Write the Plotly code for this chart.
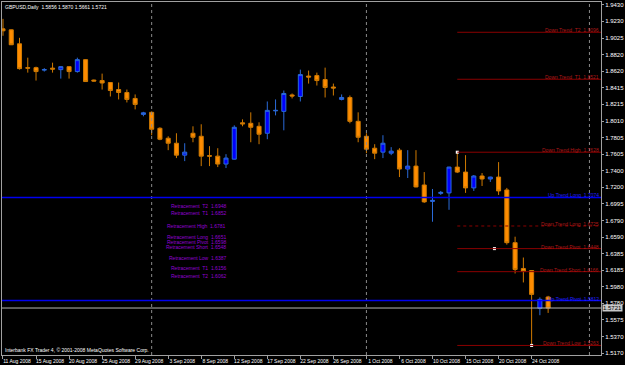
import plotly.graph_objects as go

# ---------------- data ----------------
bar_idx = list(range(67))
opens = [1.9138, 1.9126, 1.8955, 1.8663, 1.8663, 1.8633, 1.8657, 1.8639, 1.8675, 1.8615,
         1.8761, 1.8511, 1.8505, 1.8481, 1.8395, 1.8359, 1.8286, 1.8091, 1.8116, 1.7921,
         1.7799, 1.7738, 1.7592, 1.7860, 1.7823, 1.7586, 1.7580, 1.7483, 1.7543, 1.7988,
         1.7982, 1.7945, 1.7860, 1.8134, 1.8128, 1.8329, 1.8310, 1.8560, 1.8566, 1.8517,
         1.8426, 1.8274, 1.8298, 1.8006, 1.7823, 1.7677, 1.7629, 1.7616, 1.7653, 1.7422,
         1.7458, 1.7227, 1.7026, 1.7124, 1.7130, 1.7446, 1.7385, 1.7191, 1.7337, 1.7300,
         1.7324, 1.7166, 1.6521, 1.6205, 1.6180, 1.5718, 1.5856]
highs = [1.9260, 1.9130, 1.9028, 1.8785, 1.8675, 1.8657, 1.8724, 1.8680, 1.8680, 1.8785,
         1.8765, 1.8517, 1.8590, 1.8485, 1.8481, 1.8395, 1.8335, 1.8122, 1.8128, 1.7933,
         1.7823, 1.7860, 1.7738, 1.7945, 1.7970, 1.7702, 1.7677, 1.7604, 1.7957, 1.8030,
         1.8116, 1.7994, 1.8249, 1.8274, 1.8383, 1.8347, 1.8639, 1.8627, 1.8602, 1.8663,
         1.8468, 1.8335, 1.8322, 1.8116, 1.7860, 1.7726, 1.7836, 1.7690, 1.7677, 1.7653,
         1.7653, 1.7385, 1.7178, 1.7154, 1.7450, 1.7628, 1.7592, 1.7349, 1.7373, 1.7328,
         1.7507, 1.7191, 1.6594, 1.6339, 1.6185, 1.5851, 1.5870]
lows = [1.9053, 1.8940, 1.8639, 1.8602, 1.8505, 1.8615, 1.8602, 1.8529, 1.8529, 1.8602,
        1.8490, 1.8493, 1.8395, 1.8310, 1.8274, 1.8237, 1.8152, 1.8067, 1.7836, 1.7775,
        1.7653, 1.7556, 1.7519, 1.7750, 1.7458, 1.7458, 1.7446, 1.7434, 1.7540, 1.7945,
        1.7750, 1.7726, 1.7787, 1.8079, 1.7896, 1.8286, 1.8249, 1.8468, 1.8444, 1.8298,
        1.8322, 1.8262, 1.7982, 1.7750, 1.7616, 1.7543, 1.7556, 1.7592, 1.7324, 1.7312,
        1.7198, 1.7008, 1.6777, 1.7105, 1.6923, 1.7373, 1.7130, 1.7154, 1.7215, 1.7264,
        1.7105, 1.6497, 1.6144, 1.6034, 1.5263, 1.5633, 1.5661]
closes = [1.9114, 1.8943, 1.8651, 1.8657, 1.8615, 1.8639, 1.8645, 1.8675, 1.8615, 1.8761,
          1.8493, 1.8499, 1.8475, 1.8383, 1.8359, 1.8274, 1.8213, 1.8110, 1.7909, 1.7787,
          1.7738, 1.7592, 1.7629, 1.7811, 1.7580, 1.7580, 1.7483, 1.7556, 1.7933, 1.7975,
          1.7933, 1.7848, 1.8140, 1.8140, 1.8347, 1.8316, 1.8578, 1.8548, 1.8505, 1.8420,
          1.8414, 1.8298, 1.8006, 1.7811, 1.7665, 1.7616, 1.7738, 1.7641, 1.7422, 1.7458,
          1.7203, 1.7020, 1.7038, 1.7136, 1.7446, 1.7385, 1.7191, 1.7337, 1.7300, 1.7324,
          1.7154, 1.6521, 1.6193, 1.6168, 1.5888, 1.5827, 1.5721]

date_tick_idx = [0, 4, 8, 12, 16, 20, 24, 28, 32, 36, 40, 44, 48, 52, 56, 60, 64]
date_tick_labels = ["11 Aug 2008", "15 Aug 2008", "20 Aug 2008", "25 Aug 2008", "29 Aug 2008",
                    "3 Sep 2008", "8 Sep 2008", "12 Sep 2008", "17 Sep 2008", "22 Sep 2008",
                    "26 Sep 2008", "1 Oct 2008", "6 Oct 2008", "10 Oct 2008", "15 Oct 2008",
                    "20 Oct 2008", "24 Oct 2008"]
month_sep_idx = [18, 44, 71]

price_ticks = [1.9430, 1.9230, 1.9025, 1.8820, 1.8620, 1.8415, 1.8215, 1.8010, 1.7805,
               1.7605, 1.7400, 1.7200, 1.6995, 1.6790, 1.6590, 1.6385, 1.6185, 1.5980,
               1.5780, 1.5575, 1.5370, 1.5170]
price_tick_labels = ["%.4f" % v for v in price_ticks]

down_names = ["Down Trend  T2", "Down Trend  T1", "Down Trend High", "Down Trend Long",
              "Down Trend Pivot", "Down Trend Short", "Down Trend Low"]
down_vals = [1.9096, 1.8521, 1.7628, 1.6725, 1.6448, 1.6166, 1.5263]
down_start_idx = 55
up_names = ["Up Trend Long", "Up Trend Pivot"]
up_vals = [1.7074, 1.5812]

marker_idx = [55, 59.5, 64]
marker_vals = [1.7628, 1.6448, 1.5263]

retr_names = ["Retracement  T2", "Retracement  T1", "Retracement High", "Retracement Long",
              "Retracement Pivot", "Retracement Short", "Retracement Low",
              "Retracement  T1", "Retracement  T2"]
retr_vals = [1.6948, 1.6852, 1.6781, 1.6651, 1.6598, 1.6548, 1.6387, 1.6156, 1.6062]

symbol_title = "GBPUSD,Daily  1.5856 1.5870 1.5661 1.5721"
footer = "Interbank FX Trader 4, \u00a9 2001-2008 MetaQuotes Software Corp."
last_price = 1.5721

# ---------------- layout constants ----------------
W, H = 625, 365
ML, MR, MT, MB = 1, 20, 1, 9
X_RANGE = [-0.12, 72.4]
Y_RANGE = [1.5146, 1.94665]
FONT = "Liberation Sans, Arial, sans-serif"
retr_label_px = [206, 213, 226, 237, 242, 247, 258, 269, 277]  # screen rows of label objects
retr_label_right_px = 228

plot_h = H - MT - MB
plot_w = W - ML - MR

fig = go.Figure()
fig.add_trace(go.Candlestick(
    x=bar_idx, open=opens, high=highs, low=lows, close=closes,
    increasing=dict(fillcolor="#0000FF", line=dict(color="#2A6AD8", width=1)),
    decreasing=dict(fillcolor="#FF8C00", line=dict(color="#D07A00", width=1)),
    whiskerwidth=0, hoverinfo="skip", showlegend=False,
))

shapes = []
for s in month_sep_idx:
    shapes.append(dict(type="line", xref="x", yref="paper", x0=s, x1=s, y0=0, y1=1,
                       line=dict(color="#8a8a8a", width=1, dash="dot")))
for name, v in zip(down_names, down_vals):
    shapes.append(dict(type="line", xref="x", yref="y", x0=down_start_idx, x1=X_RANGE[1],
                       y0=v, y1=v,
                       line=dict(color="#8B0000", width=1,
                                 dash="dot" if name == "Down Trend Long" else "solid")))
for v in up_vals:
    shapes.append(dict(type="line", xref="paper", yref="y", x0=0, x1=1, y0=v, y1=v,
                       line=dict(color="#0000F0", width=1.5)))
shapes.append(dict(type="line", xref="paper", yref="y", x0=0, x1=1, y0=last_price, y1=last_price,
                   line=dict(color="#B4B4B4", width=1)))

fig.add_trace(go.Scatter(x=marker_idx, y=marker_vals, mode="markers",
                         marker=dict(symbol="square", size=3, color="#FFFFFF"),
                         hoverinfo="skip", showlegend=False))

ann = []
for name, v in zip(down_names, down_vals):
    ann.append(dict(xref="paper", yref="y", x=0.998, y=v, xanchor="right", yanchor="bottom",
                    text="%s  %.4f" % (name, v), showarrow=False, yshift=-2, borderpad=0,
                    font=dict(family=FONT, size=5, color="#B01818")))
for name, v in zip(up_names, up_vals):
    ann.append(dict(xref="paper", yref="y", x=0.998, y=v, xanchor="right", yanchor="bottom",
                    text="%s  %.4f" % (name, v), showarrow=False, yshift=-2, borderpad=0,
                    font=dict(family=FONT, size=5, color="#2020FF")))
for name, v, py in zip(retr_names, retr_vals, retr_label_px):
    ann.append(dict(xref="paper", yref="paper",
                    x=(retr_label_right_px - ML) / plot_w, y=1 - (py - MT) / plot_h,
                    xanchor="right", yanchor="middle", text="%s  %.4f" % (name, v),
                    showarrow=False, borderpad=0,
                    font=dict(family=FONT, size=5, color="#9400D3")))
ann.append(dict(xref="paper", yref="paper", x=0.003, y=0.997, xanchor="left", yanchor="top",
                text=symbol_title, showarrow=False, borderpad=0,
                font=dict(family=FONT, size=5, color="#FFFFFF")))
ann.append(dict(xref="paper", yref="paper", x=0.003, y=0.004, xanchor="left", yanchor="bottom",
                text=footer, showarrow=False, borderpad=0,
                font=dict(family=FONT, size=5, color="#FFFFFF")))
ann.append(dict(xref="paper", yref="y", x=1, y=last_price, xanchor="left", yanchor="middle",
                xshift=1, text="%.4f" % last_price, showarrow=False, borderpad=0,
                bgcolor="#C8C8C8", font=dict(family=FONT, size=6, color="#000000")))

fig.update_layout(
    width=W, height=H, margin=dict(l=ML, r=MR, t=MT, b=MB),
    paper_bgcolor="#000000", plot_bgcolor="#000000",
    shapes=shapes, annotations=ann, showlegend=False,
    xaxis=dict(range=X_RANGE, rangeslider=dict(visible=False), showgrid=False, zeroline=False,
               showline=True, mirror=True, linecolor="#A0A0A0", linewidth=1,
               tickmode="array", tickvals=date_tick_idx, ticktext=date_tick_labels,
               ticks="outside", ticklen=3, tickcolor="#A0A0A0", ticklabelshift=14,
               ticklabelstandoff=-2,
               tickfont=dict(family=FONT, size=5, color="#FFFFFF")),
    yaxis=dict(range=Y_RANGE, side="right", showgrid=False, zeroline=False,
               showline=True, mirror=True, linecolor="#A0A0A0", linewidth=1,
               tickmode="array", tickvals=price_ticks, ticktext=price_tick_labels,
               ticks="outside", ticklen=2, tickcolor="#A0A0A0", ticklabelstandoff=0,
               tickfont=dict(family=FONT, size=6, color="#FFFFFF")),
)

fig.write_html("out.html")
